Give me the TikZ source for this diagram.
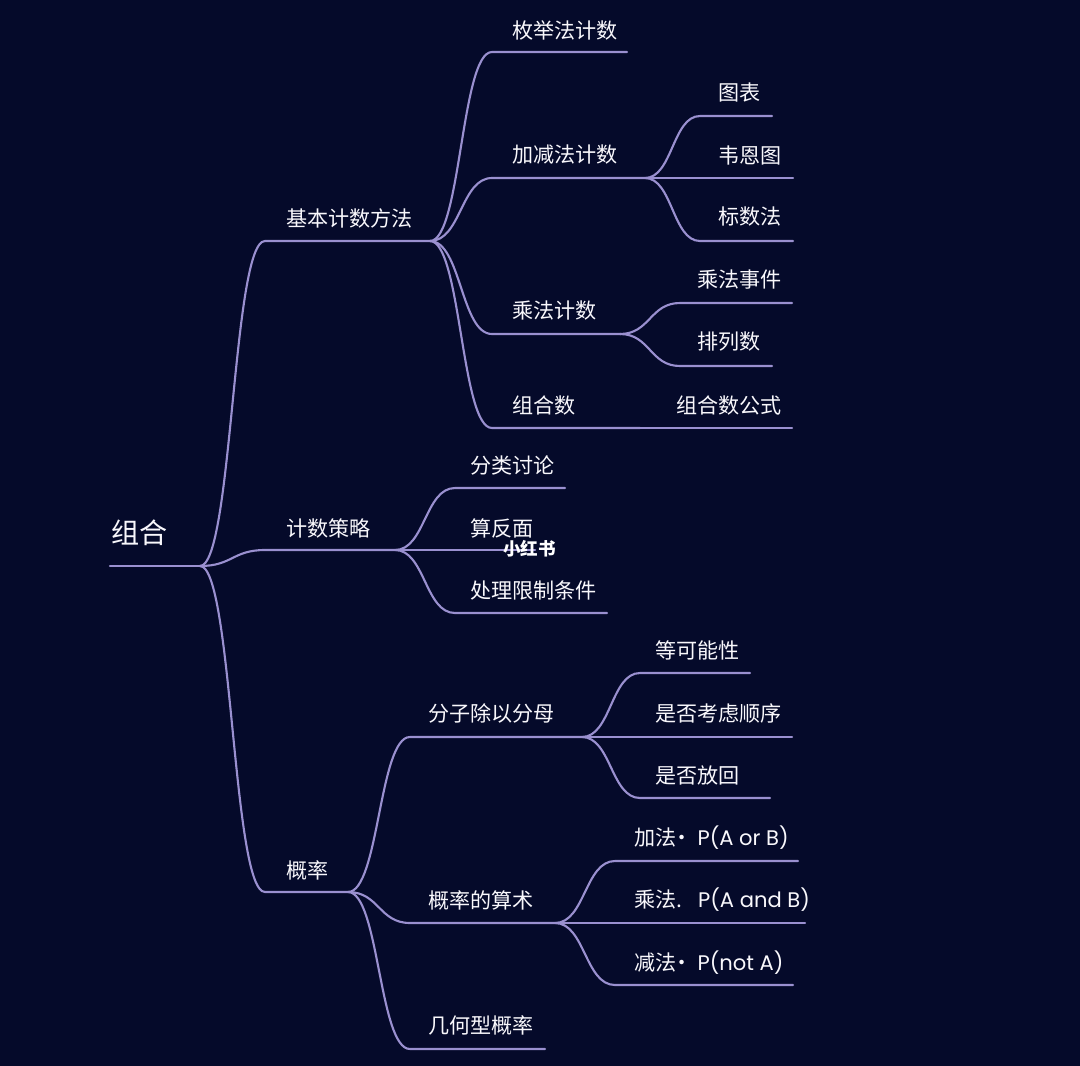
\documentclass[tikz,border=0pt]{standalone}
\usepackage{fontspec}
\setmainfont{Noto Sans CJK SC}
\newfontfamily\latinfont{Poppins}
\usetikzlibrary{calc}
\definecolor{bgnavy}{HTML}{050A2A}
\definecolor{lavender}{HTML}{9A90D0}
\tikzset{
  branch/.style={draw=lavender, line width=1.2pt, line cap=round},
  curve/.style={to path={let \p1=(\tikztostart), \p2=(\tikztotarget) in
      .. controls ({0.5*\x1+0.5*\x2},\y1) and ({0.5*\x1+0.5*\x2},\y2) .. (\tikztotarget)}},
  topic/.style={anchor=west, inner sep=0pt, text=white!94!lavender, font=\fontsize{12}{14}\selectfont},
}
\begin{document}
\begin{tikzpicture}[x=0.02cm, y=-0.02cm]
    \fill[bgnavy] (0,0) rectangle (1080,1066);
    % root
    \coordinate (rootS) at (110,566);
    \coordinate (rootE) at (200,566);
    \node[topic, font=\fontsize{16}{19}\selectfont] (root) at (111,533) {组合};
    \draw[branch] (rootS) -- (rootE);
    % first level
    \coordinate (basicS) at (265,241);  \coordinate (basicE) at (430,241);
    \coordinate (stratS) at (265,550);  \coordinate (stratE) at (395,550);
    \coordinate (probS) at (265,892);   \coordinate (probE) at (348,892);
    \node[topic] (basic) at (286,218) {基本计数方法};
    \node[topic] (strat) at (286,528) {计数策略};
    \node[topic] (prob) at (286,870) {概率};
    \draw[branch] (rootE) to[curve] (basicS) -- (basicE);
    \draw[branch] (rootE) to[curve] (stratS) -- (stratE);
    \draw[branch] (rootE) to[curve] (probS) -- (probE);
    % basic counting methods
    \coordinate (enumS) at (492,52);    \coordinate (enumE) at (627,52);
    \coordinate (addS) at (492,178);    \coordinate (addE) at (645,178);
    \coordinate (multS) at (492,334);   \coordinate (multE) at (620,334);
    \coordinate (combS) at (492,428);   \coordinate (combE) at (640,428);
    \node[topic] (enum) at (512,30) {枚举法计数};
    \node[topic] (add) at (512,155) {加减法计数};
    \node[topic] (mult) at (512,311) {乘法计数};
    \node[topic] (comb) at (512,405) {组合数};
    \draw[branch] (basicE) to[curve] (enumS) -- (enumE);
    \draw[branch] (basicE) to[curve] (addS) -- (addE);
    \draw[branch] (basicE) to[curve] (multS) -- (multE);
    \draw[branch] (basicE) to[curve] (combS) -- (combE);
    % add / subtract
    \coordinate (chartS) at (700,116);  \coordinate (chartE) at (772,116);
    \coordinate (vennS) at (700,178);   \coordinate (vennE) at (793,178);
    \coordinate (markS) at (700,241);   \coordinate (markE) at (793,241);
    \node[topic] (chart) at (718,92) {图表};
    \node[topic] (venn) at (718,155) {韦恩图};
    \node[topic] (mark) at (718,217) {标数法};
    \draw[branch] (addE) to[curve] (chartS) -- (chartE);
    \draw[branch] (addE) -- (vennS) -- (vennE);
    \draw[branch] (addE) to[curve] (markS) -- (markE);
    % multiplication
    \coordinate (eventS) at (680,303);  \coordinate (eventE) at (792,303);
    \coordinate (permS) at (680,366);   \coordinate (permE) at (772,366);
    \node[topic] (event) at (697,280) {乘法事件};
    \node[topic] (perm) at (697,342) {排列数};
    \draw[branch] (multE) to[curve] (eventS) -- (eventE);
    \draw[branch] (multE) to[curve] (permS) -- (permE);
    % combinations
    \coordinate (formE) at (792,428);
    \node[topic] (form) at (676,405) {组合数公式};
    \draw[branch] (combE) -- (formE);
    % counting strategies
    \coordinate (caseS) at (455,488);   \coordinate (caseE) at (565,488);
    \coordinate (compS) at (455,550);   \coordinate (compE) at (535,550);
    \coordinate (limS) at (455,613);    \coordinate (limE) at (607,613);
    \node[topic] (case) at (470,465) {分类讨论};
    \node[topic] (compl) at (470,528) {算反面};
    \node[topic] (lim) at (470,590) {处理限制条件};
    \draw[branch] (stratE) to[curve] (caseS) -- (caseE);
    \draw[branch] (stratE) -- (compS) -- (compE);
    \draw[branch] (stratE) to[curve] (limS) -- (limE);
    \node[anchor=west, inner sep=0pt, text=white, font=\fontsize{10}{12}\selectfont\bfseries] (wmark) at (503,549) {小红书};
    % probability
    \coordinate (ratioS) at (410,737);  \coordinate (ratioE) at (582,737);
    \coordinate (arithS) at (410,923);  \coordinate (arithE) at (555,923);
    \coordinate (geomS) at (410,1049);  \coordinate (geomE) at (545,1049);
    \node[topic] (ratio) at (428,713) {分子除以分母};
    \node[topic] (arith) at (428,900) {概率的算术};
    \node[topic] (geom) at (428,1025) {几何型概率};
    \draw[branch] (probE) to[curve] (ratioS) -- (ratioE);
    \draw[branch] (probE) to[curve] (arithS) -- (arithE);
    \draw[branch] (probE) to[curve] (geomS) -- (geomE);
    % numerator over denominator
    \coordinate (equalS) at (640,673);  \coordinate (equalE) at (750,673);
    \coordinate (orderS) at (640,737);  \coordinate (orderE) at (792,737);
    \coordinate (replS) at (640,798);   \coordinate (replE) at (770,798);
    \node[topic] (equal) at (655,650) {等可能性};
    \node[topic] (order) at (655,713) {是否考虑顺序};
    \node[topic] (repl) at (655,775) {是否放回};
    \draw[branch] (ratioE) to[curve] (equalS) -- (equalE);
    \draw[branch] (ratioE) -- (orderS) -- (orderE);
    \draw[branch] (ratioE) to[curve] (replS) -- (replE);
    % arithmetic of probability
    \coordinate (orS) at (615,861);     \coordinate (orE) at (798,861);
    \coordinate (andS) at (615,923);    \coordinate (andE) at (805,923);
    \coordinate (notS) at (615,985);    \coordinate (notE) at (793,985);
    \node[topic] (or) at (634,838) {加法\hspace{-3pt}·\hspace{3pt}{\latinfont P(A or B)}};
    \node[topic] (and) at (634,900) {乘法.\hspace{9pt}{\latinfont P(A and B)}};
    \node[topic] (not) at (634,963) {减法\hspace{-3pt}·\hspace{3pt}{\latinfont P(not A)}};
    \draw[branch] (arithE) to[curve] (orS) -- (orE);
    \draw[branch] (arithE) -- (andS) -- (andE);
    \draw[branch] (arithE) to[curve] (notS) -- (notE);
\end{tikzpicture}
\end{document}
